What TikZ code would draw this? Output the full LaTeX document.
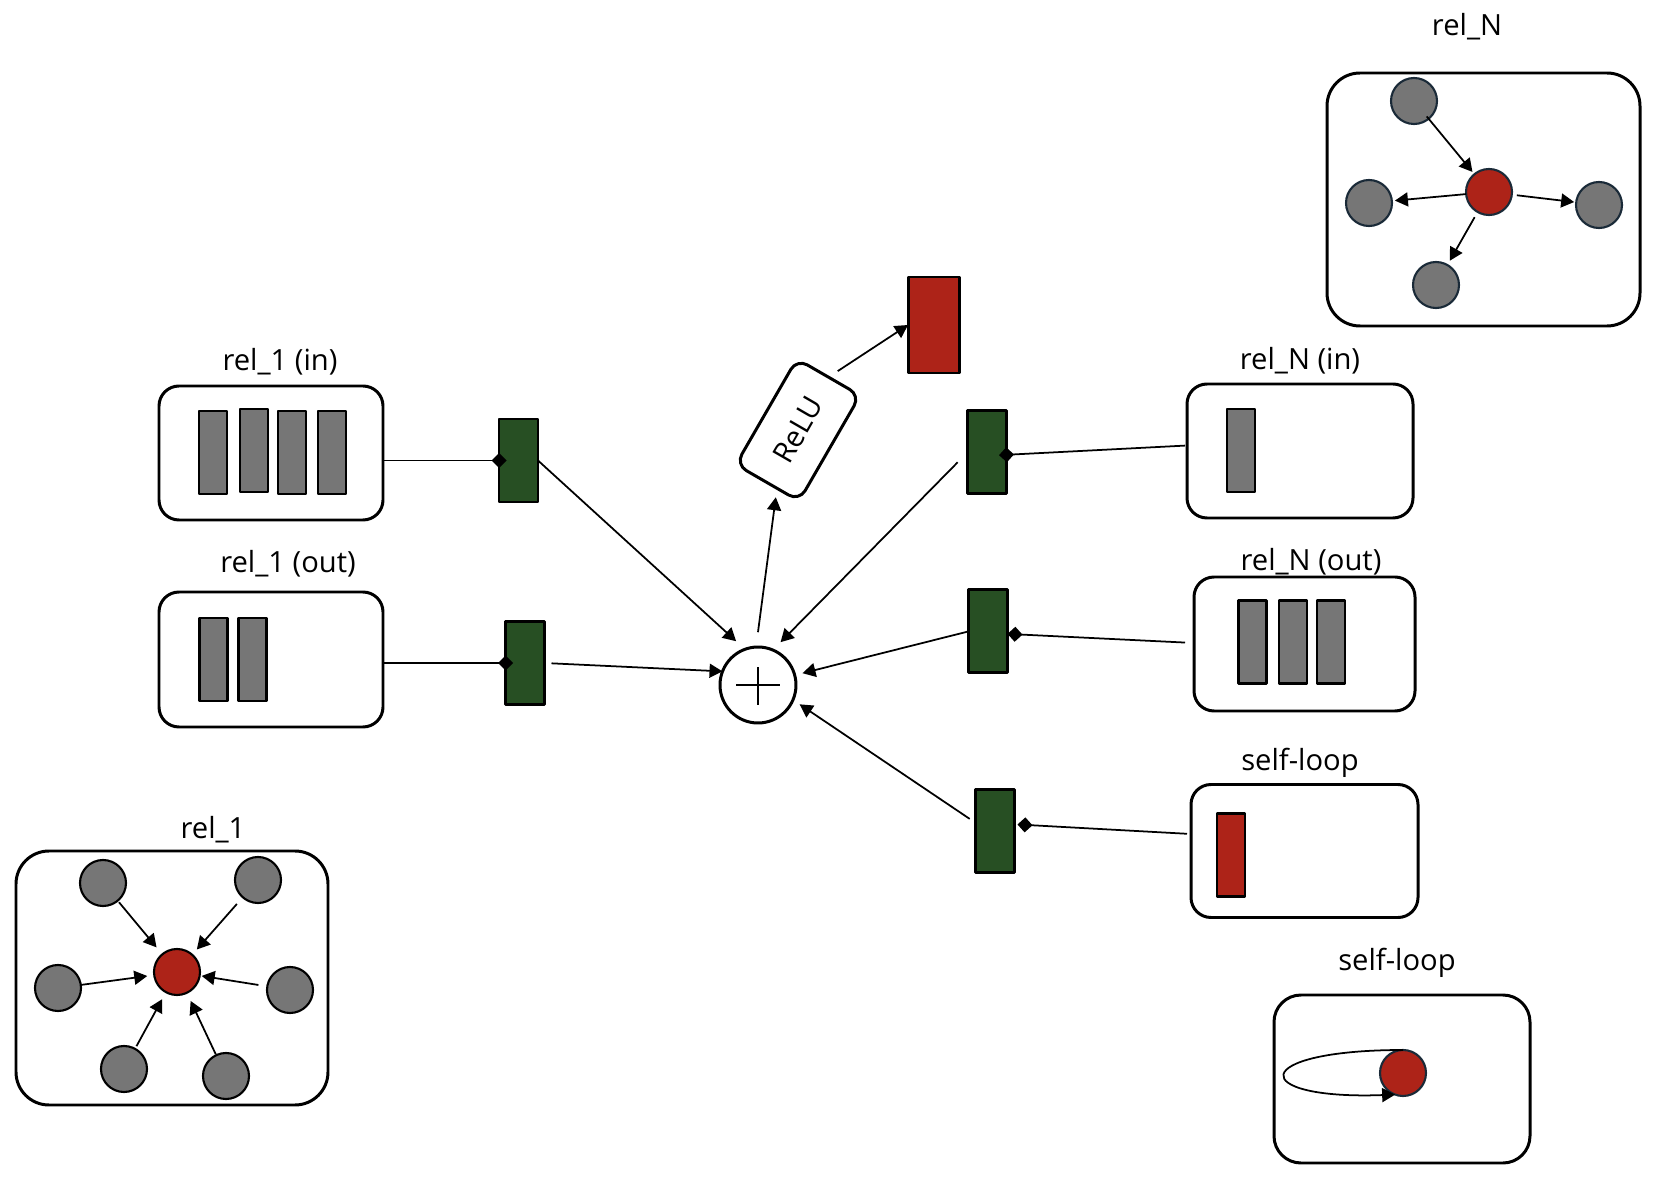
\documentclass[tikz,border=0pt]{standalone}
\usepackage{fontspec}
\setmainfont{Open Sans}
\usetikzlibrary{arrows.meta,calc}
\definecolor{nodered}{RGB}{173,35,24}
\definecolor{boxgreen}{RGB}{39,79,35}
\definecolor{bargray}{RGB}{118,118,118}
\definecolor{vnavy}{RGB}{26,42,56}
\begin{document}
\begin{tikzpicture}[x=0.1mm, y=-0.1mm, font=\fontsize{8.3}{10}\selectfont, line join=round,
	>={Triangle[length=1.3mm,width=1.4mm]},
	panel/.style={draw, line width=0.85pt, rounded corners=2mm, inner sep=0pt, outer sep=0pt},
	bar/.style={draw, line width=0.8pt, fill=bargray, minimum width=2.8mm, minimum height=8.3mm, inner sep=0pt, outer sep=0pt},
	gbox/.style={draw, line width=0.8pt, fill=boxgreen, minimum width=3.9mm, minimum height=8.3mm, inner sep=0pt, outer sep=0pt},
	vert/.style={circle, draw=vnavy, line width=0.6pt, fill=bargray, minimum size=4.6mm, inner sep=0pt, outer sep=0pt},
	flow/.style={->, line width=0.5pt},
	tie/.style={-{Diamond[length=1.5mm,width=1.5mm]}, line width=0.5pt}]
	\useasboundingbox (0,0) rectangle (1655,1180);
	
	% Các khối quan hệ bên trái
	\node[panel, minimum width=22.4mm, minimum height=13.4mm] (rel1in) at (271,453) {};
	\node (lb1in) at (280,362) {rel\_1 (in)};
	\foreach \i/\x/\y in {1/213/452.5, 2/254/450.5, 3/292/452.5, 4/332/452.5}
	\node[bar] (b1in\i) at (\x,\y) {};
	
	\node[panel, minimum width=22.4mm, minimum height=13.5mm] (rel1out) at (271,659.5) {};
	\node (lb1out) at (288,564) {rel\_1 (out)};
	\foreach \i/\x in {1/213.5, 2/252.5}
	\node[bar] (b1out\i) at (\x,659.5) {};
	
	% Các khối quan hệ bên phải
	\node[panel, minimum width=22.6mm, minimum height=13.4mm] (relNin) at (1300,451) {};
	\node (lbNin) at (1300,361) {rel\_N (in)};
	\node[bar] (bNin1) at (1241,450.5) {};
	
	\node[panel, minimum width=22.1mm, minimum height=13.4mm] (relNout) at (1304.5,644) {};
	\node (lbNout) at (1311,562) {rel\_N (out)};
	\foreach \i/\x in {1/1252.5, 2/1293, 3/1331}
	\node[bar] (bNout\i) at (\x,641.7) {};
	
	\node[panel, minimum width=22.7mm, minimum height=13.3mm] (self) at (1304.5,851) {};
	\node (lbself) at (1300,763) {self-loop};
	\node[bar, fill=nodered] (bself) at (1231,855) {};
	
	% Các khối trọng số
	\foreach \n/\x/\y in {g1/518.5/460.5, g2/525/663, g3/987/452.3, g4/988/631.4, g5/995/830.8}
	\node[gbox] (\n) at (\x,\y) {};
	
	\draw[tie, shorten >=-0.75mm] (g1.west -| rel1in.east) -- (g1.west);
	\draw[tie, shorten >=-0.75mm] (g2.west -| rel1out.east) -- (g2.west);
	\draw[tie, shorten <=0.2mm, shorten >=-0.75mm] ([yshift=0.55mm]relNin.west) -- ([yshift=-0.25mm]g3.east);
	\draw[tie, shorten <=0.9mm] ([yshift=0.1mm]relNout.west) -- ([yshift=-0.25mm]g4.east);
	\draw[tie, shorten <=0.4mm, shorten >=0.3mm] ([yshift=1.7mm]self.west) -- ([yshift=0.65mm]g5.east);
	
	% Phép cộng, ReLU và đầu ra
	\node[circle, draw, line width=0.85pt, minimum size=7.6mm, inner sep=0pt, outer sep=0pt] (sum) at (758,685) {};
	\draw[line width=0.6pt] ([xshift=-2.2mm]sum.center) -- ([xshift=2.2mm]sum.center);
	\draw[line width=0.6pt] ([yshift=1.8mm]sum.center) -- ([yshift=-2mm]sum.center);
	\node[draw, line width=0.85pt, rounded corners=1.2mm, rotate=60, minimum width=12.2mm, minimum height=7.3mm, inner sep=0pt, outer sep=0pt] (relu) at (798,430) {ReLU};
	\node[draw, line width=0.85pt, fill=nodered, minimum width=5.1mm, minimum height=9.6mm, inner sep=0pt, outer sep=0pt] (hout) at (933.5,325) {};
	
	\draw[flow, shorten >=1.2mm] (g1.east) -- (sum.110);
	\draw[flow, shorten <=0.7mm] (g2.east) -- (sum.159);
	\draw[flow, shorten <=1.4mm, shorten >=1.1mm] (g3.west) -- (sum.67);
	\draw[flow, shorten <=0.1mm, shorten >=0.8mm] (g4.west) -- (sum.15);
	\draw[flow, shorten <=0.7mm, shorten >=0.8mm] ([yshift=0.8mm]g5.west) -- (sum.-23);
	\draw[flow, shorten <=1.5mm, shorten >=0.9mm] (sum.93) -- ($(relu.west)!0.3!(relu.south west)$);
	\draw[flow, shorten <=1.1mm] (relu.east) -- (hout.west);
	
	% Đồ thị rel_1
	\node[panel, rounded corners=3.3mm, minimum width=31.2mm, minimum height=25.4mm] (p1) at (172,978) {};
	\node (lbp1) at (213,830) {rel\_1};
	\node[vert, draw=black, fill=nodered] (c1) at (177,972) {};
	\foreach \n/\x/\y/\p/\q in {TL/103/883/0.2/0.9, TR/258/880/0.9/0.7, L/58/988/0/0.7, R/290/990/0.9/0.2, BL/124/1069/0.3/0.8, BR/226/1076/0.1/0.9}{
		\node[vert, draw=black] (a\n) at (\x,\y) {};
		\draw[flow, shorten <=\p mm, shorten >=\q mm] (a\n) -- (c1);
	}
	
	% Đồ thị rel_N
	\node[panel, rounded corners=3.3mm, minimum width=31.3mm, minimum height=25.3mm] (pN) at (1483.5,199.5) {};
	\node (lbpN) at (1467,27) {rel\_N};
	\node[vert, fill=nodered] (cN) at (1489,192) {};
	\foreach \n/\x/\y in {T/1414/101, L/1369/203, R/1599/205, B/1436/285}
	\node[vert] (b\n) at (\x,\y) {};
	\draw[flow, shorten <=-0.3mm, shorten >=0.3mm] (bT) -- (cN);
	\draw[flow, shorten >=0.3mm] (cN) -- (bL);
	\draw[flow, shorten <=0.5mm, shorten >=0.2mm] (cN) -- (bR);
	\draw[flow, shorten <=0.6mm, shorten >=0.5mm] (cN) -- (bB);
	
	% Đồ thị self-loop
	\node[panel, rounded corners=2.7mm, minimum width=25.6mm, minimum height=16.8mm] (pS) at (1402,1079) {};
	\node (lbpS) at (1397,963) {self-loop};
	\node[vert, fill=nodered] (cS) at (1403,1073) {};
	\draw[flow] (cS.north) .. controls (1247,1050) and (1247,1100) .. (cS.250);
\end{tikzpicture}
\end{document}
